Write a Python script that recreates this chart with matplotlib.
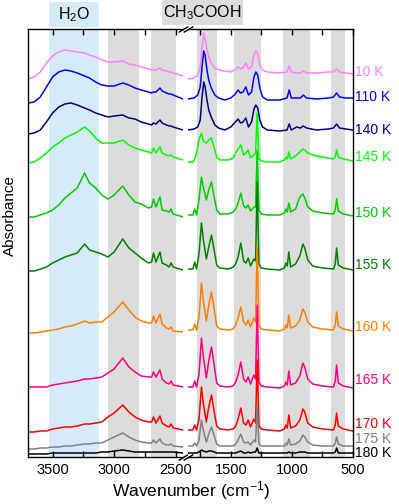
"""
Stacked IR spectra of CH3COOH/H2O ice at increasing temperature (10 K .. 180 K),
drawn on a broken wavenumber axis (3700-2440 | 1850-500 cm-1).
Values are absorbance with the stacking offset included (arb. units).
"""
import matplotlib
matplotlib.use("Agg")
import matplotlib.pyplot as plt
from matplotlib.patches import Rectangle
from matplotlib.transforms import blended_transform_factory as blend

plt.rcParams["font.family"] = ["Liberation Sans", "DejaVu Sans"]
plt.rcParams["mathtext.fontset"] = "custom"
plt.rcParams["mathtext.rm"] = "Liberation Sans"
plt.rcParams["mathtext.it"] = "Liberation Sans:italic"
plt.rcParams["mathtext.default"] = "regular"

BLUE_BAND = "#d5ebfa"
GRAY_BAND = "#dcdcdc"

# ---- data ---------------------------------------------------------------
temps = ["10 K", "110 K", "140 K", "145 K", "150 K", "155 K",
         "160 K", "165 K", "170 K", "175 K", "180 K"]
colors = ["#ff80ff", "#0000ff", "#000080", "#00ff00", "#00cc00", "#008000",
          "#ff8000", "#ff0080", "#ff0000", "#808080", "#000000"]

# high wavenumber side (O-H / C-H region)
wn_left = [3700, 3650, 3600, 3550, 3500, 3450, 3400, 3350, 3300, 3240,
           3200, 3150, 3100, 3050, 3000, 2930, 2880, 2830, 2780, 2720,
           2695, 2680, 2660, 2627, 2610, 2575, 2552, 2537, 2520, 2440]
# fingerprint side, amorphous ice (10-140 K)
wn_right_am = [1850, 1800, 1770, 1750, 1735, 1721, 1710, 1695, 1680, 1660,
               1630, 1600, 1550, 1500, 1470, 1440, 1420, 1400, 1377, 1355,
               1330, 1310, 1295, 1280, 1262, 1240, 1200, 1100, 1040, 1022,
               1005, 960, 930, 907, 880, 800, 700, 660, 634, 610,
               560, 500]
# fingerprint side, crystalline ice (145-180 K)
wn_right_cr = [1850, 1810, 1795, 1780, 1760, 1740, 1725, 1700, 1680, 1658,
               1635, 1615, 1590, 1520, 1480, 1460, 1440, 1418, 1395, 1375,
               1358, 1338, 1311, 1297, 1284, 1270, 1250, 1200, 1100, 1060,
               1050, 1038, 1025, 1010, 970, 935, 910, 895, 870, 830,
               750, 660, 645, 634, 620, 580, 500]

a10_left = [378, 380, 385, 394, 401, 405, 407, 406, 405, 404, 402, 400, 397, 395, 395,
            396, 393, 392, 390, 388, 387, 387, 387, 389, 387, 386, 385, 385, 384, 381]
a110_left = [354, 355, 360, 370, 380, 385, 387, 386, 384, 381, 379, 375, 372, 371, 371,
             374, 372, 369, 367, 365, 364, 365, 365, 369, 366, 364, 363, 363, 362, 358]
a140_left = [323, 324, 327, 335, 344, 350, 353, 354, 352, 349, 347, 344, 342, 340, 341,
             342, 339, 338, 335, 333, 332, 334, 333, 337, 334, 332, 331, 331, 330, 327]
a145_left = [294, 295, 299, 304, 310, 314, 319, 322, 325, 330, 326, 319, 314, 314, 314,
             317, 312, 309, 307, 305, 304, 309, 304, 310, 304, 302, 301, 302, 300, 297]
a150_left = [240, 240, 242, 244, 247, 252, 259, 264, 269, 284, 274, 269, 262, 258, 262,
             271, 262, 255, 253, 249, 250, 258, 250, 260, 247, 246, 245, 248, 243, 240]
a155_left = [186, 186, 188, 190, 194, 197, 200, 202, 204, 213, 207, 205, 203, 200, 205,
             218, 209, 204, 199, 194, 195, 204, 195, 205, 194, 192, 190, 194, 190, 187]
a160_left = [124, 124, 125, 126, 127, 128, 130, 131, 133, 136, 134, 135, 135, 140, 145,
             155, 147, 140, 136, 134, 134, 141, 134, 143, 133, 129, 128, 130, 126, 125]
a165_left = [70, 70, 70, 70, 72, 73, 74, 75, 76, 78, 78, 79, 80, 84, 88,
             99, 90, 85, 81, 80, 80, 85, 80, 87, 78, 74, 73, 76, 72, 70]
a170_left = [25, 25, 26, 26, 28, 29, 30, 30, 31, 33, 33, 34, 35, 40, 44,
             52, 45, 40, 37, 35, 35, 40, 34, 41, 34, 31, 30, 33, 29, 27]
a175_left = [8, 8, 9, 9, 10, 10, 11, 11, 12, 13, 13, 14, 14, 17, 20,
             24, 20, 17, 15, 14, 14, 17, 14, 18, 14, 12, 12, 13, 11, 10]
a180_left = [3, 3, 3, 3, 4, 4, 4, 4, 4, 4, 4, 4, 5, 5, 6,
             7, 6, 5, 5, 5, 5, 5, 5, 5, 5, 5, 5, 5, 5, 4]

a10_right = [378, 379, 382, 390, 410, 424, 419, 407, 400, 394, 389, 387, 386, 385,
             387, 390, 388, 389, 394, 388, 390, 402, 406, 404, 392, 387, 385, 384,
             385, 391, 385, 384, 384, 386, 384, 384, 385, 385, 388, 385, 384, 383]
a110_right = [358, 359, 362, 370, 390, 406, 402, 387, 377, 369, 362, 359, 357, 359,
              362, 367, 364, 365, 370, 362, 365, 380, 385, 382, 369, 360, 357, 357,
              359, 367, 359, 359, 359, 362, 359, 358, 359, 360, 364, 360, 359, 359]
a140_right = [327, 328, 330, 337, 360, 375, 370, 357, 347, 340, 332, 329, 327, 330,
              334, 338, 334, 335, 339, 330, 335, 348, 352, 349, 337, 330, 327, 326,
              327, 333, 327, 330, 329, 331, 329, 327, 328, 329, 333, 329, 328, 327]
a145_right = [295, 295, 298, 304, 317, 324, 316, 314, 317, 319, 309, 300, 297, 297, 299, 304,
              308, 312, 302, 304, 307, 299, 302, 304, 344, 298, 296, 295, 295, 297, 300, 298,
              305, 298, 301, 305, 308, 307, 304, 302, 300, 298, 300, 307, 300, 298, 296]
a150_right = [242, 242, 248, 242, 257, 280, 270, 257, 267, 275, 259, 247, 243, 243, 245, 248,
              254, 264, 251, 249, 252, 246, 250, 250, 307, 247, 243, 242, 242, 244, 248, 245,
              254, 245, 248, 260, 263, 259, 250, 246, 244, 243, 247, 258, 246, 243, 241]
a155_right = [188, 188, 195, 188, 203, 234, 218, 198, 210, 222, 206, 192, 189, 188, 190, 193,
              200, 214, 196, 194, 199, 191, 198, 196, 275, 193, 189, 188, 187, 189, 194, 191,
              205, 190, 193, 201, 213, 209, 197, 191, 189, 188, 193, 209, 192, 189, 187]
a160_right = [127, 127, 133, 127, 140, 174, 157, 136, 152, 165, 147, 131, 128, 127, 128, 132,
              139, 150, 135, 132, 137, 130, 139, 135, 210, 132, 128, 127, 126, 128, 132, 129,
              142, 129, 131, 137, 148, 145, 135, 130, 128, 127, 132, 145, 131, 128, 126]
a165_right = [70, 70, 76, 70, 83, 119, 101, 79, 96, 110, 91, 74, 71, 70, 71, 75,
              82, 95, 78, 75, 80, 73, 82, 78, 152, 75, 71, 70, 69, 71, 75, 72,
              86, 72, 74, 81, 94, 90, 78, 73, 71, 70, 76, 92, 74, 71, 69]
a170_right = [27, 27, 32, 27, 38, 70, 54, 35, 50, 62, 45, 31, 28, 27, 28, 31,
              38, 49, 34, 32, 37, 30, 38, 34, 97, 31, 28, 27, 26, 28, 32, 29,
              42, 29, 31, 37, 48, 45, 34, 30, 28, 27, 32, 44, 31, 28, 26]
a175_right = [11, 11, 14, 11, 17, 37, 27, 15, 23, 30, 21, 13, 11, 11, 11, 13,
              17, 23, 15, 14, 15, 12, 17, 15, 51, 13, 11, 11, 11, 11, 14, 12,
              18, 12, 13, 16, 22, 20, 15, 12, 11, 11, 14, 20, 13, 11, 11]
a180_right = [4, 4, 4, 4, 5, 7, 6, 5, 6, 6, 5, 4, 4, 4, 4, 4,
              5, 6, 4, 4, 5, 4, 5, 5, 9, 4, 4, 4, 4, 4, 4, 4,
              5, 4, 4, 5, 5, 5, 4, 4, 4, 4, 5, 9, 4, 4, 4]

left_traces = [a10_left, a110_left, a140_left, a145_left, a150_left, a155_left,
               a160_left, a165_left, a170_left, a175_left, a180_left]
right_traces = [a10_right, a110_right, a140_right, a145_right, a150_right, a155_right,
                a160_right, a165_right, a170_right, a175_right, a180_right]
right_grids = [wn_right_am] * 3 + [wn_right_cr] * 8

# shaded bands (cm-1)
water_band = (3530, 3120)
gray_left = [(3050, 2800), (2700, 2500)]
gray_right = [(1780, 1610), (1475, 1250), (1075, 850), (680, 565)]

# where the temperature labels sit (same units as the traces)
label_y = [385, 360, 327, 300, 244, 192, 130, 77, 33, 18, 4]

# ---- figure -------------------------------------------------------------
fig = plt.figure(figsize=(3.99, 5.04), dpi=100)
ax_l = fig.add_axes([28 / 399, 47 / 504, 155 / 399, 428 / 504])
ax_r = fig.add_axes([188 / 399, 47 / 504, 165 / 399, 428 / 504])

ax_l.axvspan(*water_band, color=BLUE_BAND, lw=0, zorder=0)
for lo, hi in gray_left:
    ax_l.axvspan(lo, hi, color=GRAY_BAND, lw=0, zorder=0)
for lo, hi in gray_right:
    ax_r.axvspan(lo, hi, color=GRAY_BAND, lw=0, zorder=0)

for yl, yr, wr, c in zip(left_traces, right_traces, right_grids, colors):
    ax_l.plot(wn_left, yl, color=c, lw=1.1, zorder=2)
    ax_r.plot(wr, yr, color=c, lw=1.1, zorder=2)

ax_l.set_xlim(3700, 2440)
ax_r.set_xlim(1850, 500)
for ax in (ax_l, ax_r):
    ax.set_ylim(0, 428)
    ax.set_yticks([])
    for s in ax.spines.values():
        s.set_linewidth(1.0)
    ax.tick_params(which="both", direction="in", top=True, bottom=True,
                   length=4, width=1.0, labelsize=10.5, pad=4.5)
ax_l.spines["right"].set_visible(False)
ax_r.spines["left"].set_visible(False)
ax_l.set_xticks([3500, 3000, 2500])
ax_l.set_xticks([3250, 2750], minor=True)
ax_r.set_xticks([1500, 1000, 500])
ax_r.set_xticks([1750, 1250, 750], minor=True)

# break marks
d = 0.6
kw = dict(marker=[(-1, -d), (1, d)], markersize=7, linestyle="none",
          color="k", mec="k", mew=1, clip_on=False)
ax_l.plot([1, 1], [0, 1], transform=ax_l.transAxes, **kw)
ax_r.plot([0, 0], [0, 1], transform=ax_r.transAxes, **kw)

# region tags above the frame
tr = blend(ax_l.transData, ax_l.transAxes)
ax_l.add_patch(Rectangle((water_band[0], 1.004), water_band[1] - water_band[0], 0.058,
                         transform=tr, color=BLUE_BAND, lw=0, clip_on=False))
ax_l.text(sum(water_band) / 2, 1.034, "H$_2$O", transform=tr, ha="center", va="center",
          fontsize=11.5)
fig.add_artist(Rectangle((162 / 399, 479 / 504), 81 / 399, 25 / 504,
                         transform=fig.transFigure, color=GRAY_BAND, lw=0))
fig.text(202 / 399, 491 / 504, "CH$_3$COOH", ha="center", va="center", fontsize=11.5)

# temperature labels
tr_r = blend(ax_r.transAxes, ax_r.transData)
for lbl, c, y in zip(temps, colors, label_y):
    ax_r.text(1.012, y, lbl, color=c, transform=tr_r, ha="left", va="center",
              fontsize=10)

fig.text(191 / 399, 2 / 504, "Wavenumber (cm$^{-1}$)", ha="center", va="bottom",
         fontsize=12.5)
fig.text(10 / 399, (504 - 216) / 504, "Absorbance", rotation=90, ha="center",
         va="center", fontsize=11)

fig.savefig("out.png", dpi=100)
